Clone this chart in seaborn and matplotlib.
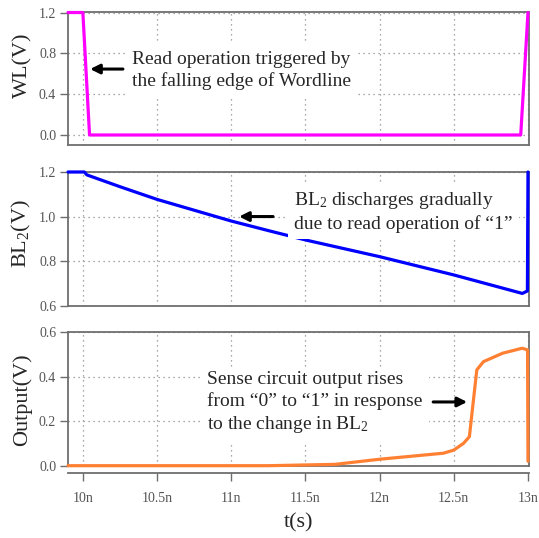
import matplotlib
matplotlib.use("Agg")
import matplotlib.pyplot as plt
import seaborn as sns
import pandas as pd

# Transient simulation traces (time in ns, voltage in V)
t_wl = [9.90, 10.00, 10.045, 12.951, 13.00]
v_wl = [1.20, 1.20, 0.00, 0.00, 1.20]

t_bl = [9.90, 10.01, 10.027, 10.25, 10.50, 11.00, 11.262, 11.50, 12.00, 12.50, 12.962, 12.996, 13.00]
v_bl = [1.20, 1.20, 1.187, 1.134, 1.077, 0.980, 0.935, 0.895, 0.820, 0.738, 0.655, 0.666, 1.20]

t_out = [9.90, 11.25, 11.70, 12.00, 12.43, 12.50, 12.565, 12.605, 12.63, 12.655, 12.70, 12.83, 12.96, 12.997, 13.00]
v_out = [0.00, 0.00, 0.006, 0.029, 0.056, 0.070, 0.100, 0.130, 0.280, 0.430, 0.467, 0.505, 0.527, 0.520, 0.020]

x_ticks = [10.0, 10.5, 11.0, 11.5, 12.0, 12.5, 13.0]
x_tick_labels = ["10n", "10.5n", "11n", "11.5n", "12n", "12.5n", "13n"]

sns.set_theme(style="white")
plt.rcParams["font.family"] = ["Liberation Serif", "DejaVu Serif"]
plt.rcParams["mathtext.fontset"] = "custom"
plt.rcParams["mathtext.rm"] = "Liberation Serif"
plt.rcParams["mathtext.it"] = "Liberation Serif:italic"

SPINE = "#6e6e6e"
TICKC = "#555555"
GRID = "#8c8c8c"

fig = plt.figure(figsize=(5.39, 5.38), dpi=100)
ax1 = fig.add_axes([0.1262, 0.7305, 0.8553, 0.2472])
ax2 = fig.add_axes([0.1262, 0.4318, 0.8553, 0.2485])
ax3 = fig.add_axes([0.1262, 0.1344, 0.8553, 0.2485])

panels = [
    (ax1, t_wl, v_wl, "#ff00ff", (-0.098, 1.205), [0.0, 0.4, 0.8, 1.2], "WL(V)", 0.60),
    (ax2, t_bl, v_bl, "#0000ff", (0.6, 1.2), [0.6, 0.8, 1.0, 1.2], r"BL$_2$(V)", 0.536),
    (ax3, t_out, v_out, "#ff8033", (0.0, 0.6), [0.0, 0.2, 0.4, 0.6], "Output(V)", 0.49),
]

for ax, t, v, color, ylim, yt, ylabel, ly in panels:
    df = pd.DataFrame({"t": t, "v": v})
    sns.lineplot(data=df, x="t", y="v", ax=ax, color=color, lw=2.3,
                 estimator=None, sort=False, clip_on=False, zorder=3)
    ax.set_xlim(9.90, 13.007)
    ax.set_ylim(*ylim)
    ax.set_yticks(yt)
    ax.set_yticklabels([f"{y:.1f}" for y in yt])
    ax.set_xticks(x_ticks)
    ax.grid(True, color=GRID, linestyle=(0, (1, 3)), lw=0.9)
    for s in ax.spines.values():
        s.set_visible(True)
        s.set_color(SPINE)
        s.set_linewidth(1.3)
    ax.tick_params(axis="y", direction="out", length=5.5, width=1, color=SPINE,
                   labelsize=10, labelcolor=TICKC, pad=3, left=True)
    ax.set_xlabel("")
    ax.set_ylabel(ylabel, fontsize=16)
    ax.yaxis.set_label_coords(-0.077, ly)

for ax in (ax1, ax2):
    ax.tick_params(axis="x", length=0, labelbottom=False)

# bottom panel: detached time axis below the frame
ax3.spines["bottom"].set_position(("outward", 5))
ax3.plot([0, 1], [0, 0], transform=ax3.transAxes, color=SPINE, lw=1.3,
         clip_on=False, zorder=2.5)
ax3.set_xticklabels(x_tick_labels)
ax3.tick_params(axis="x", direction="out", length=6, width=1, color=SPINE,
                labelsize=10, labelcolor=TICKC, pad=8, bottom=True)
ax3.set_xlabel("t(s)", fontsize=16, labelpad=6)

box = dict(facecolor="white", edgecolor="none", pad=4.5)
arrow = dict(arrowstyle="-|>", color="black", lw=2.2, mutation_scale=14,
             shrinkA=0, shrinkB=0)

ax1.text(10.332, 0.636, "Read operation triggered by\nthe falling edge of Wordline",
         fontsize=14, ha="left", va="center", linespacing=1.3, bbox=box, zorder=4)
ax1.annotate("", xy=(10.049, 0.646), xytext=(10.27, 0.646), arrowprops=arrow, zorder=5)

ax2.text(11.424, 1.023, "BL$_2$ discharges gradually\ndue to read operation of \u201c1\u201d",
         fontsize=14, ha="left", va="center", linespacing=1.3, bbox=box, zorder=4)
ax2.annotate("", xy=(11.053, 1.0), xytext=(11.282, 1.0), arrowprops=arrow, zorder=5)

ax3.text(10.838, 0.281,
         "Sense circuit output rises\nfrom \u201c0\u201d to \u201c1\u201d in response\nto the change in BL$_2$",
         fontsize=14, ha="left", va="center", linespacing=1.3, bbox=box, zorder=4)
ax3.annotate("", xy=(12.59, 0.286), xytext=(12.361, 0.286), arrowprops=arrow, zorder=5)

fig.savefig("out.png", dpi=100)
